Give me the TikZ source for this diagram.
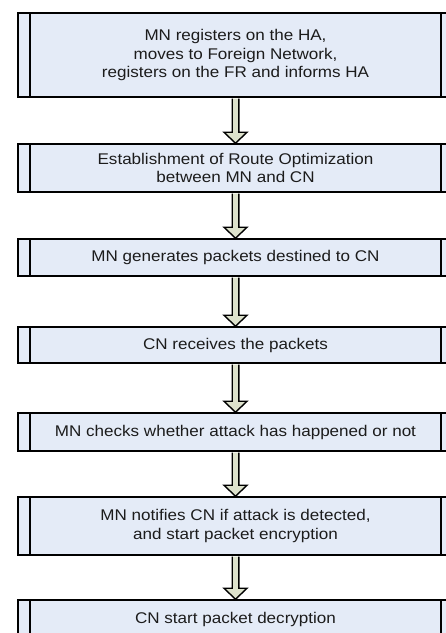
\documentclass[tikz,border=0pt]{standalone}
\usepackage{fontspec}
\setmainfont{Liberation Sans}[FakeStretch=1.1]
\usetikzlibrary{calc}

\definecolor{procfill}{RGB}{228,235,247}
\definecolor{flowfill}{RGB}{221,226,204}
\definecolor{txtgray}{RGB}{28,28,28}

\tikzstyle{proc}=[rectangle,draw,line width=1.5pt,fill=procfill,minimum width=435pt,inner sep=0pt,align=center,text=txtgray,font=\fontsize{15.5}{18.5}\selectfont,
    path picture={
        \draw[line width=1.5pt] ([xshift=12pt]path picture bounding box.north west) -- ([xshift=12pt]path picture bounding box.south west);
        \draw[line width=1.5pt] ([xshift=-12pt]path picture bounding box.north east) -- ([xshift=-12pt]path picture bounding box.south east);
    }]
\tikzstyle{flow}=[draw,line width=1.4pt,fill=flowfill,line join=miter,
    to path={($(\tikztostart.south)+(-3.3,0.75)$) -- ($(\tikztotarget.north)+(-3.3,-11)$) -- ($(\tikztotarget.north)+(-11.5,-11)$) -- (\tikztotarget.north) -- ($(\tikztotarget.north)+(11.5,-11)$) -- ($(\tikztotarget.north)+(3.3,-11)$) -- ($(\tikztostart.south)+(3.3,0.75)$)}]

\begin{document}
\begin{tikzpicture}[x=1pt,y=-1pt]
        \useasboundingbox (0,0) rectangle (446,633);

        \draw (235.5,55)  node[proc,minimum height=84pt](reg){MN registers on the HA,\\moves to Foreign Network,\\registers on the FR and informs HA};
        \draw (235.5,168) node[proc,minimum height=48pt](ro){Establishment of Route Optimization\\between MN and CN};
        \draw (235.5,257.5) node[proc,minimum height=37pt](gen){MN generates packets destined to CN};
        \draw (235.5,345) node[proc,minimum height=36pt](recv){CN receives the packets};
        \draw (235.5,432) node[proc,minimum height=38pt](check){MN checks whether attack has happened or not};
        \draw (235.5,526) node[proc,minimum height=58pt](notify){MN notifies CN if attack is detected,\\and start packet encryption};
        \draw (235.5,619) node[proc,minimum height=38pt](decrypt){CN start packet decryption};
        %
        \path
            (reg)    edge[flow]    (ro)
            (ro)     edge[flow]    (gen)
            (gen)    edge[flow]    (recv)
            (recv)   edge[flow]    (check)
            (check)  edge[flow]    (notify)
            (notify) edge[flow]    (decrypt)
        ;
      \end{tikzpicture}
\end{document}
